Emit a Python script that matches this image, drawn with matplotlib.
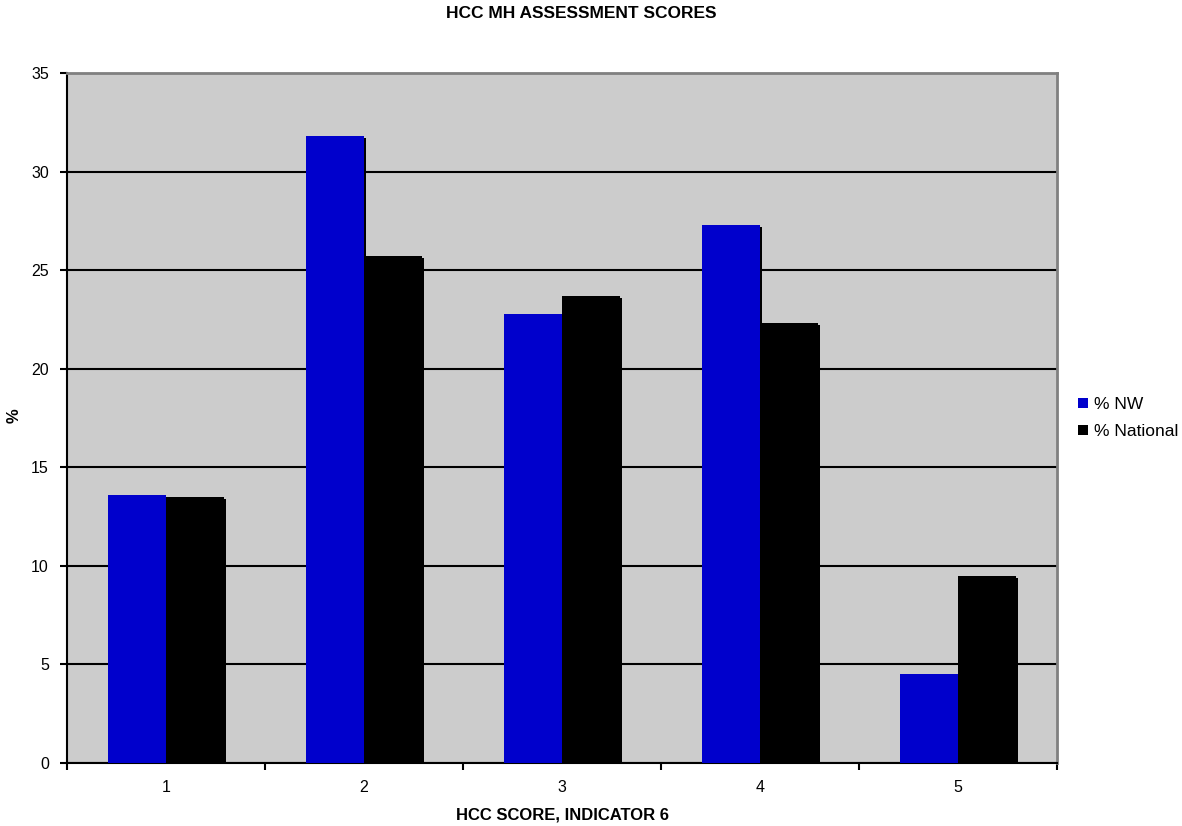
import matplotlib.pyplot as plt
import matplotlib.patheffects as pe
import numpy as np
from matplotlib.patches import Patch

plt.rcParams["font.family"] = ["Liberation Sans", "DejaVu Sans"]

scores = ["1", "2", "3", "4", "5"]
pct_nw = [13.6, 31.8, 22.8, 27.3, 4.5]
pct_national = [13.5, 25.7, 23.7, 22.3, 9.5]

blue = "#0000CC"
shadow = [pe.SimplePatchShadow(offset=(1.5, -1.5), shadow_rgbFace="black", alpha=1.0), pe.Normal()]

fig = plt.figure(figsize=(11.82, 8.26), dpi=100)
ax = fig.add_axes([67 / 1182, 1 - 763 / 826, 990 / 1182, 690 / 826])
ax.set_facecolor("#CCCCCC")

x = np.arange(1, len(scores) + 1)
width = 0.293
b1 = ax.bar(x - width / 2, pct_nw, width, color=blue, zorder=3)
b2 = ax.bar(x + width / 2, pct_national, width, color="black", zorder=3)
for bar in list(b1) + list(b2):
    bar.set_path_effects(shadow)

ax.set_xlim(0.5, 5.5)
ax.set_ylim(0, 35)
ax.set_yticks(range(0, 36, 5))
ax.yaxis.grid(True, color="black", linewidth=1.5, zorder=1)
ax.set_axisbelow(True)

ax.set_xticks(x)
ax.set_xticklabels(scores)
ax.set_xticks(np.arange(0.5, 6, 1), minor=True)
ax.tick_params(axis="x", which="major", length=0, pad=12, labelsize=11.5)
ax.tick_params(axis="x", which="minor", length=5, width=1.5, direction="out")
ax.tick_params(axis="y", length=5, width=1.5, direction="out", labelsize=11.5, pad=8)

for side in ("left", "bottom"):
    ax.spines[side].set_color("black")
    ax.spines[side].set_linewidth(1.5)
for side in ("top", "right"):
    ax.spines[side].set_color("#808080")
    ax.spines[side].set_linewidth(2)

ax.set_xlabel("HCC SCORE, INDICATOR 6", fontsize=12, fontweight="bold", labelpad=9)
fig.text(14 / 1182, 1 - 416 / 826, "%", rotation=90, ha="center", va="center",
         fontsize=12, fontweight="bold")
fig.text(581 / 1182, 1 - 14 / 826, "HCC MH ASSESSMENT SCORES", ha="center", va="center",
         fontsize=12.5, fontweight="bold")

handles = [Patch(facecolor=blue, label="% NW"), Patch(facecolor="black", label="% National")]
fig.legend(handles=handles, loc="center left", bbox_to_anchor=(1073 / 1182, 1 - 418 / 826),
           frameon=False, fontsize=12.5, handlelength=0.55, handleheight=0.55,
           handletextpad=0.35, labelspacing=0.7, borderaxespad=0, borderpad=0.3)

fig.savefig("out.png", dpi=100)
